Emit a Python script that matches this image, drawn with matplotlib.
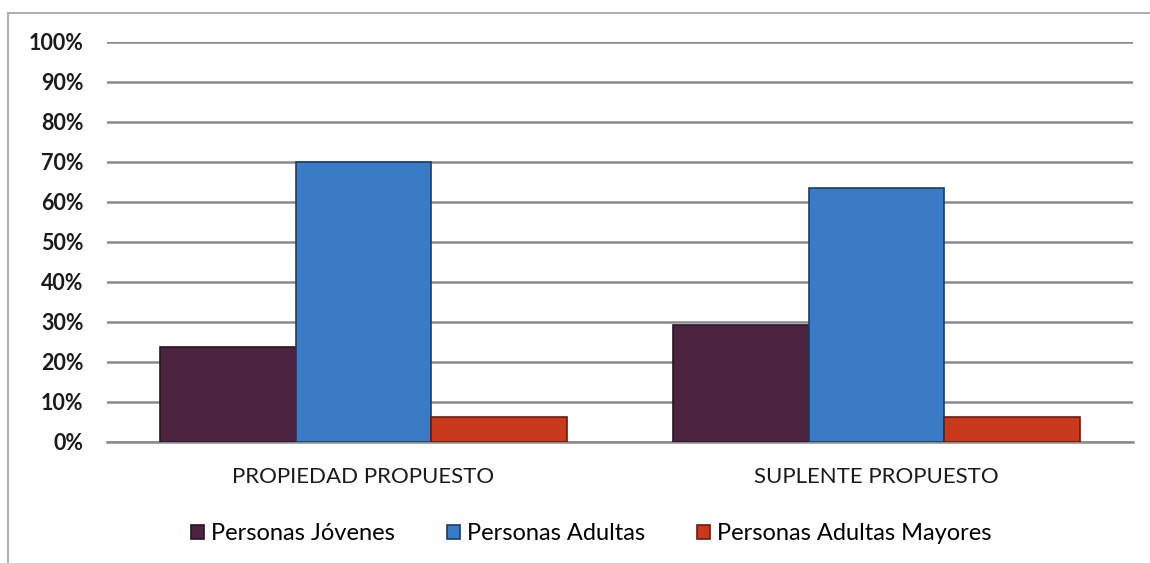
import matplotlib
matplotlib.use("Agg")
import matplotlib.pyplot as plt
import numpy as np
from matplotlib.lines import Line2D

categories = ["PROPIEDAD PROPUESTO", "SUPLENTE PROPUESTO"]
series_names = ["Personas Jóvenes", "Personas Adultas", "Personas Adultas Mayores"]
jovenes = [23.7, 29.3]
adultas = [70.0, 63.5]
mayores = [6.2, 6.2]
y_ticks = [0, 10, 20, 30, 40, 50, 60, 70, 80, 90, 100]
y_tick_labels = [f"{v}%" for v in y_ticks]

colors = ["#4d2440", "#3a7bc6", "#c93a1c"]
edge_colors = ["#2a1420", "#1c3d66", "#6e1a0c"]

plt.rcParams['font.family'] = ['Lato', 'DejaVu Sans']

fig = plt.figure(figsize=(11.5, 5.63), dpi=100)
ax = fig.add_axes([107/1150, 1-442/563, (1133-107)/1150, 400/563])

x = np.arange(len(categories))
w = 0.265
for i, (vals, c, ec, name) in enumerate(zip([jovenes, adultas, mayores], colors, edge_colors, series_names)):
    ax.bar(x + (i-1)*w, vals, width=w, color=c, edgecolor=ec, linewidth=1.2,
           label=name, zorder=3)

ax.set_xlim(-0.5, 1.5)
ax.set_ylim(0, 100)
ax.set_yticks(y_ticks)
ax.set_yticklabels(y_tick_labels, fontsize=15.5, fontweight='bold', color='#1a1a1a')
ax.set_xticks(x)
ax.set_xticklabels(categories, fontsize=16, color='#1a1a1a')
ax.tick_params(axis='y', length=0, pad=17)
ax.tick_params(axis='x', length=0, pad=18)
ax.grid(axis='y', color='#8a8a8a', linewidth=1.8, zorder=0)
for s in ['top', 'right', 'left']:
    ax.spines[s].set_visible(False)
ax.spines['bottom'].set_color('#8a8a8a')
ax.spines['bottom'].set_linewidth(1.8)

leg = fig.legend(loc='center', bbox_to_anchor=(591/1150, 1-534/563), ncol=3,
                 frameon=False, fontsize=17, handlelength=0.55, handleheight=0.55,
                 handletextpad=0.3, columnspacing=2.2)

# Chart border
fig.add_artist(Line2D([8/1150, 8/1150], [0, 1-13/563], transform=fig.transFigure,
                      color='#b0b0b0', linewidth=1.5))
fig.add_artist(Line2D([8/1150, 1], [1-13/563, 1-13/563], transform=fig.transFigure,
                      color='#b0b0b0', linewidth=1.5))

fig.savefig("out.png", dpi=100)
